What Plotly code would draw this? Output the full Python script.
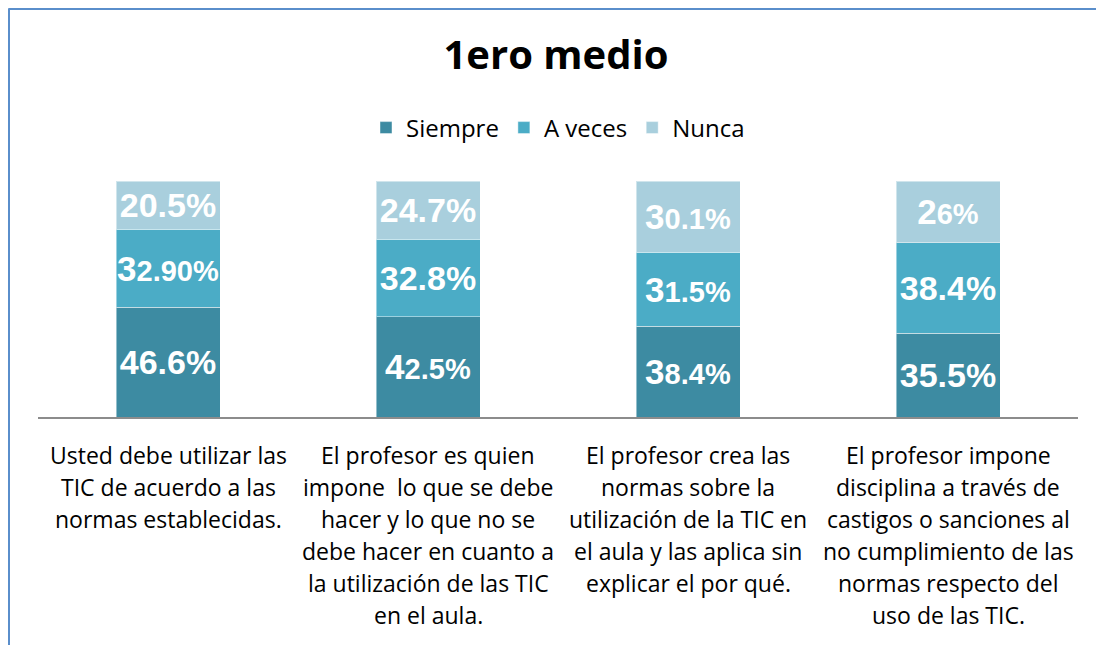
import plotly.graph_objects as go

# ---- data ----
categories = ["Q1", "Q2", "Q3", "Q4"]
category_lines = [
    ["Usted debe utilizar las", "TIC de acuerdo a las", "normas establecidas."],
    ["El profesor es quien", "impone  lo que se debe", "hacer y lo que no se",
     "debe hacer en cuanto a", "la utilización de las TIC", "en el aula."],
    ["El profesor crea las", "normas sobre la", "utilización de la TIC en",
     "el aula y las aplica sin", "explicar el por qué."],
    ["El profesor impone", "disciplina a través de", "castigos o sanciones al",
     "no cumplimiento de las", "normas respecto del", "uso de las TIC."],
]
series_names = ["Siempre", "A veces", "Nunca"]
siempre = [46.6, 42.5, 38.4, 35.5]
a_veces = [32.9, 32.8, 31.5, 38.4]
nunca = [20.5, 24.7, 30.1, 26.0]
siempre_labels = ["46.6%", "42.5%", "38.4%", "35.5%"]
a_veces_labels = ["32.90%", "32.8%", "31.5%", "38.4%"]
nunca_labels = ["20.5%", "24.7%", "30.1%", "26%"]

# ---- style ----
colors = ["#3D8BA2", "#4BACC6", "#A9CFDD"]
# labels whose first digit is rendered larger than the rest (as in the original)
big_first = [[False, True, True, False], [True, False, True, False], [False, False, True, True]]
BIG, SMALL = 34, 29

# page body has an 8px margin, so the figure is sized to fill the rest of the window
W, H = 1096, 637
ML, MR, MT, MB = 30, 26, 173, 228
PW, PH = W - ML - MR, H - MT - MB


def fmt(label, big):
    if big:
        return (f'<span style="font-size:{BIG + 1}px">{label[0]}</span>'
                f'<span style="font-size:{SMALL}px">{label[1:]}</span>')
    return label


fig = go.Figure()
for name, vals, labs, flags, col in zip(series_names, [siempre, a_veces, nunca],
                                         [siempre_labels, a_veces_labels, nunca_labels],
                                         big_first, colors):
    fig.add_trace(go.Bar(
        x=categories, y=vals, name=name,
        marker=dict(color=col, line=dict(color="rgba(255,255,255,0.45)", width=1)),
        text=[fmt(l, f) for l, f in zip(labs, flags)],
        textposition="inside", insidetextanchor="middle",
        constraintext="none",
        textfont=dict(family="Liberation Sans, Arial", size=BIG, color="white", weight="bold"),
        width=0.4,
        hoverinfo="skip",
    ))

# category labels, one annotation per line
for cat, lines in zip(categories, category_lines):
    for i, line in enumerate(lines):
        fig.add_annotation(
            x=cat, xref="x", y=0, yref="paper", yanchor="middle",
            yshift=-(38 + 32 * i), text=line, showarrow=False,
            font=dict(family="Open Sans", size=23, color="black"),
        )

# frame (top and left border visible in the reference crop)
bx = (0.5 - ML) / PW
by = (MT + PH - 0.5) / PH
fig.add_shape(type="line", xref="paper", yref="paper", x0=bx, x1=bx, y0=by, y1=-(MB + 10) / PH,
              line=dict(color="#5A8ECB", width=3))
fig.add_shape(type="line", xref="paper", yref="paper", x0=bx, x1=(W + 10 - ML) / PW, y0=by, y1=by,
              line=dict(color="#5A8ECB", width=3))

fig.update_layout(
    width=W, height=H,
    barmode="stack",
    margin=dict(l=ML, r=MR, t=MT, b=MB),
    paper_bgcolor="white", plot_bgcolor="white",
    title=dict(text="<b>1ero medio</b>", x=0.5, xanchor="center",
               y=1 - 47 / H, yanchor="middle", yref="container",
               font=dict(family="Open Sans", size=40, color="black")),
    legend=dict(orientation="h", x=0.5, xanchor="center",
                y=1 + 53 / PH, yanchor="middle",
                font=dict(family="Open Sans", size=24, color="black"),
                traceorder="normal", itemclick=False),
    xaxis=dict(showticklabels=False, showline=True, linecolor="#8C8C8C", linewidth=2,
               ticks="", showgrid=False, fixedrange=True),
    yaxis=dict(range=[0, 100], visible=False, showgrid=False, fixedrange=True),
    showlegend=True,
)

fig.write_html("out.html")
